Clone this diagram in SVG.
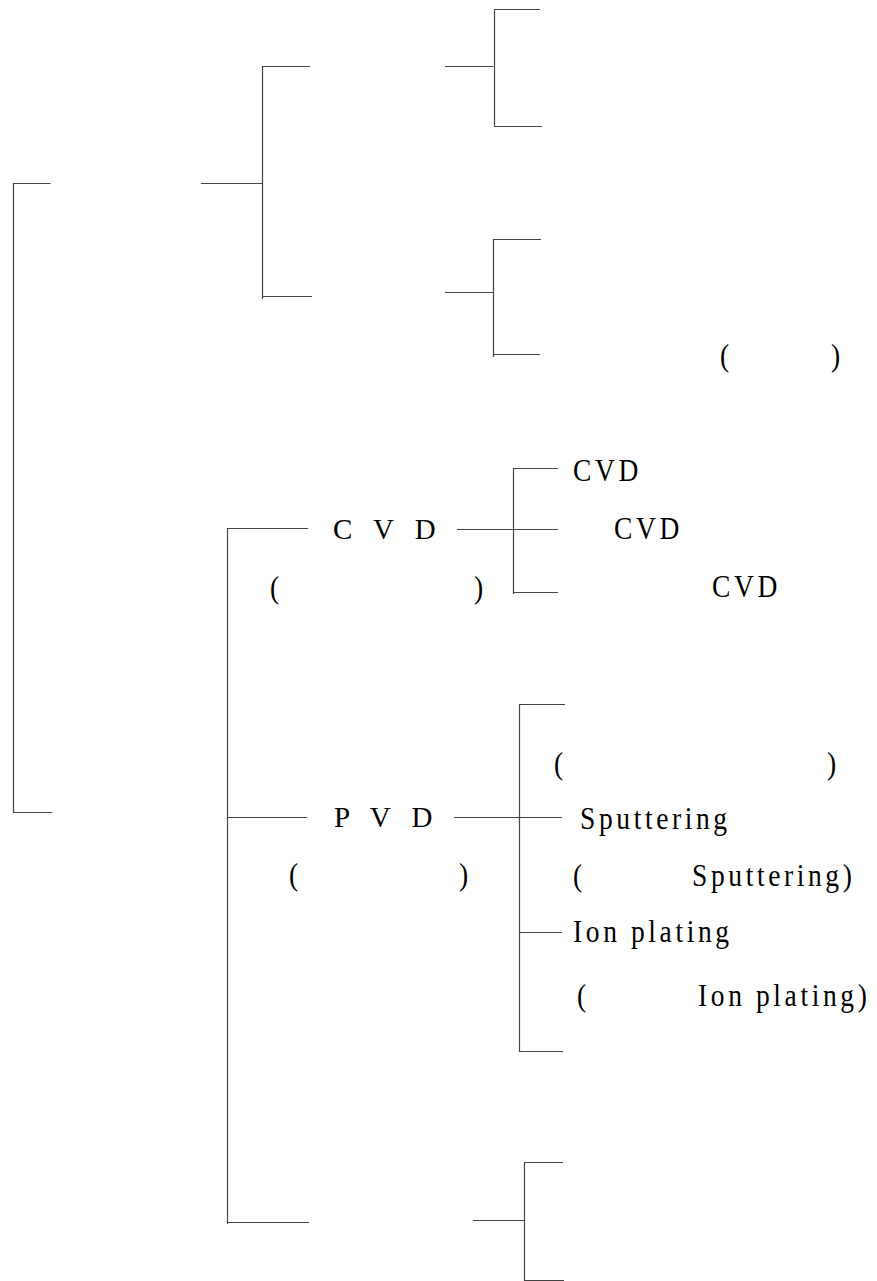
<svg xmlns="http://www.w3.org/2000/svg" width="877" height="1281" viewBox="0 0 877 1281">
<style>
  .ln { stroke: #444; stroke-width: 1.2; fill: none; }
  .t { font-family: "Liberation Serif", "Times New Roman", serif; font-size: 32px; fill: #000; letter-spacing: 4.2px; }
  .big { font-family: "Liberation Serif", "Times New Roman", serif; font-size: 29px; fill: #000; letter-spacing: 7px; }
</style>
<rect width="877" height="1281" fill="#fff"/>
<g id="connectors">
  <path class="ln" d="M50.5,183.5 H13.5 V812.5 H52"/>
  <path class="ln" d="M201,183.5 H262.5"/>
  <path class="ln" d="M310,66.5 H262.5 V299 M262.5,296.5 H312"/>
  <path class="ln" d="M445,66.5 H493.5"/>
  <path class="ln" d="M540,9.5 H494.5 V127 M494.5,126.5 H542"/>
  <path class="ln" d="M445,292.5 H493.5"/>
  <path class="ln" d="M541,239.5 H493.5 V357 M493.5,354.5 H540"/>
  <path class="ln" d="M308,528.5 H227.5 V1224 M227.5,817.5 H307 M227.5,1222.5 H309"/>
  <path class="ln" d="M457,529.5 H513.5"/>
  <path class="ln" d="M558,468.5 H513.5 V594 M513.5,529.5 H558 M513.5,592.5 H558"/>
  <path class="ln" d="M454,817.5 H519.5"/>
  <path class="ln" d="M565,704.5 H519.5 V1052 M519.5,817.5 H562 M519.5,932.5 H562 M519.5,1051.5 H563"/>
  <path class="ln" d="M473,1220.5 H524.5"/>
  <path class="ln" d="M563,1162.5 H524.5 V1281 M524.5,1280.5 H564"/>
</g>
<g id="node-top-paren">
  <text class="t" transform="translate(720,366) scale(0.86,1)">(</text>
  <text class="t" transform="translate(831,366) scale(0.86,1)">)</text>
</g>
<g id="node-cvd">
  <text class="big" x="333" y="539">C V D</text>
  <text class="t" transform="translate(270,598) scale(0.86,1)">(</text>
  <text class="t" transform="translate(474,598) scale(0.86,1)">)</text>
</g>
<g id="node-cvd-1"><text class="t" transform="translate(573,481) scale(0.86,1)">CVD</text></g>
<g id="node-cvd-2"><text class="t" transform="translate(614,539) scale(0.86,1)">CVD</text></g>
<g id="node-cvd-3"><text class="t" transform="translate(712,597) scale(0.86,1)">CVD</text></g>
<g id="node-pvd">
  <text class="big" x="334" y="827">P V D</text>
  <text class="t" transform="translate(289,885) scale(0.86,1)">(</text>
  <text class="t" transform="translate(459,885) scale(0.86,1)">)</text>
</g>
<g id="node-pvd-1">
  <text class="t" transform="translate(554,774) scale(0.86,1)">(</text>
  <text class="t" transform="translate(827,774) scale(0.86,1)">)</text>
</g>
<g id="node-sputtering">
  <text class="t" transform="translate(580,829) scale(0.86,1)">Sputtering</text>
  <text class="t" transform="translate(573,886) scale(0.86,1)">(</text>
  <text class="t" transform="translate(692,886) scale(0.86,1)">Sputtering)</text>
</g>
<g id="node-ionplating">
  <text class="t" transform="translate(573,942) scale(0.86,1)">Ion plating</text>
  <text class="t" transform="translate(577,1006) scale(0.86,1)">(</text>
  <text class="t" transform="translate(698,1006) scale(0.86,1)">Ion plating)</text>
</g>
</svg>
